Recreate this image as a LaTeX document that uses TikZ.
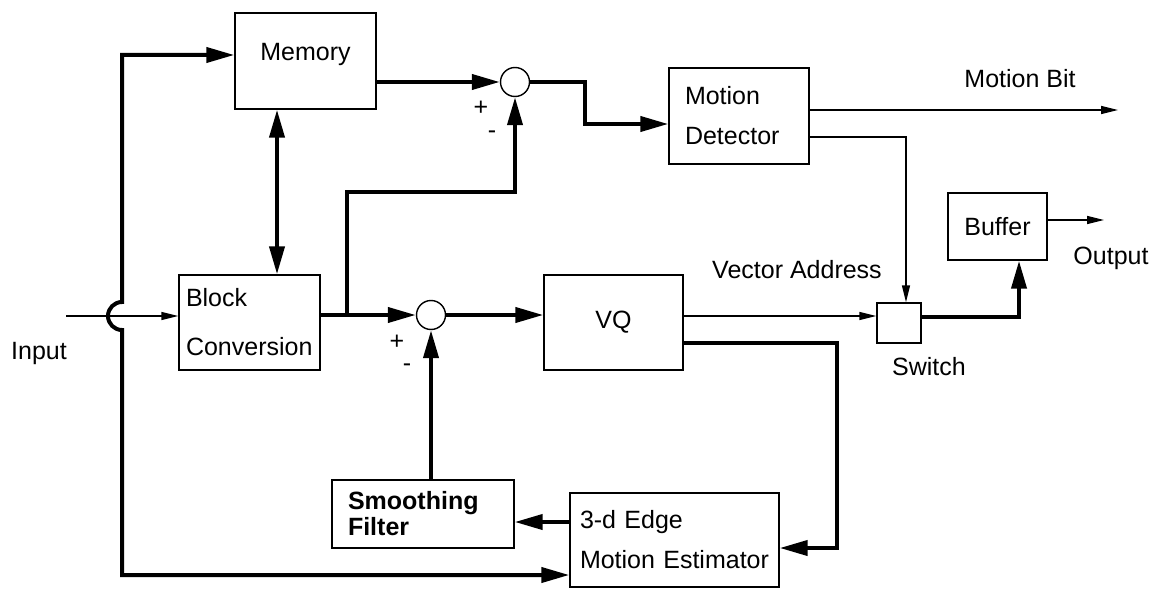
\documentclass[tikz,border=0pt]{standalone}
\usepackage{fontspec}
\setmainfont{Liberation Sans}
\usetikzlibrary{arrows.meta}
\begin{document}
\begin{tikzpicture}[x=0.5pt,y=-0.5pt,font=\fontsize{12.5}{15}\selectfont,
  blk/.style={draw,line width=0.7pt,inner sep=0pt},
  lft/.style={blk,align=left,inner xsep=#1},
  sum/.style={draw,circle,line width=0.7pt,minimum size=14.5pt,inner sep=0pt},
  thk/.style={line width=2pt,>={Triangle[length=14pt,width=7.5pt]}},
  thn/.style={line width=0.7pt,>={Triangle[length=8.5pt,width=4pt]}}]
\useasboundingbox (0,0) rectangle (1154,588);
% blocks
\node[blk,minimum width=70.5pt,minimum height=48pt,text height=9pt,text depth=9pt] (mem) at (305.5,61) {Memory};
\node[lft=3.5pt,text width=63.5pt,minimum height=47.5pt] (bc) at (249.5,322.5) {Block\\[9.5pt]Conversion};
\node[lft=8pt,text width=54pt,minimum height=48pt] (md) at (739,116) {Motion\\[5pt]Detector};
\node[blk,minimum width=69.5pt,minimum height=47.5pt] (vq) at (613.5,322.5) {VQ};
\node[blk,minimum width=22pt,minimum height=20pt] (sw) at (899,323) {};
\node[blk,minimum width=49.5pt,minimum height=33.5pt] (buf) at (997.5,226.5) {Buffer};
\node[lft=8pt,text width=75pt,minimum height=34pt,font=\fontsize{12.5}{15}\selectfont\bfseries] (sf) at (423,514) {Smoothing\\[-2pt]Filter};
\node[lft=5pt,text width=94.5pt,minimum height=47pt] (me) at (674.5,540) {3-d Edge\\[5pt]Motion Estimator};
\node[sum] (s1) at (515,82) {};
\node[sum] (s2) at (431,315) {};
% signs and labels
\node (p1) at (481,108) {+};
\node (m1) at (492,135) {-};
\node (p2) at (397,342) {+};
\node (m2) at (407,368) {-};
\node (lin) at (39,353) {Input};
\node (lmb) at (1020,79) {Motion Bit};
\node (lva) at (797,270) {Vector Address};
\node (lsw) at (929,367) {Switch};
\node (lout) at (1111,258) {Output};
\coordinate (in) at (66,316);
\coordinate (mbit) at (1118,110);
\coordinate (out) at (1104,220);
% input and feedback loop
\draw[thn,->] (in) -- (bc.west |- in);
\draw[thk,<->] (mem.west |- 0,55) -| (122,302) arc[start angle=90,end angle=270,radius=7pt] |- (me.west |- 0,575);
\draw[thk,<->] (277,0 |- mem.south) -- (277,0 |- bc.north);
% difference paths
\draw[thk,->] (mem.east |- s1) -- (s1.west);
\draw[thk,->] (bc.east |- s2) -- (s2.west);
\draw[thk,->] (347,0 |- s2) |- (s1 |- 0,192) -- (s1.south);
\draw[thk,->] (s2.east) -- (vq.west |- s2);
\draw[thk,->] (s1.east) -| (585,124) -- (md.west |- 0,124);
% outputs
\draw[thn,->] (md.east |- 0,110) -- (mbit);
\draw[thn,->] (md.east |- 0,137) -| (906,0 |- sw.north);
\draw[thn,->] (vq.east |- 0,316) -- (sw.west |- 0,316);
\draw[thk,->] (sw.east |- 0,317) -| (1019,0 |- buf.south);
\draw[thn,->] (buf.east |- 0,220) -- (out);
% estimator loop
\draw[thk,->] (vq.east |- 0,343) -| (837,548) -- (me.east |- 0,548);
\draw[thk,->] (me.west |- 0,522) -- (sf.east |- 0,522);
\draw[thk,->] (s2 |- sf.north) -- (s2.south);
\end{tikzpicture}
\end{document}
